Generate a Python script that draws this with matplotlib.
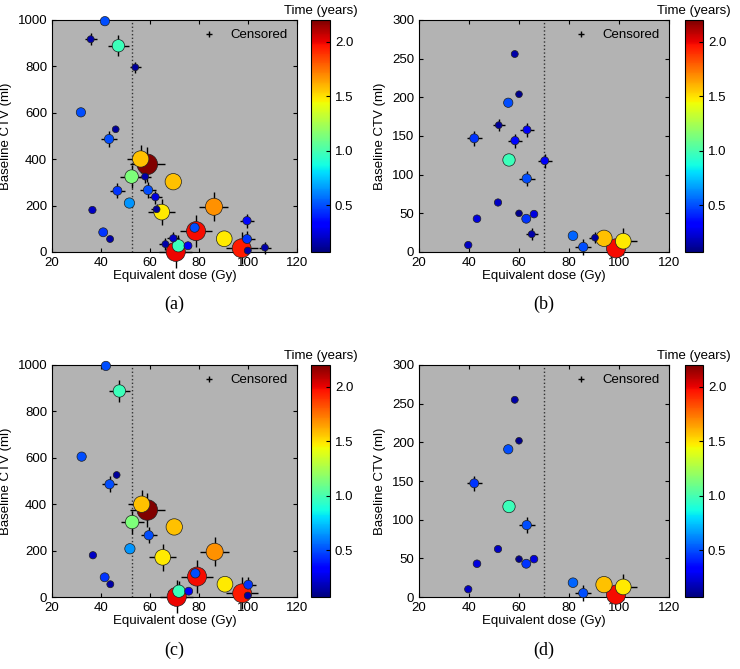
import matplotlib.pyplot as plt
import numpy as np
from matplotlib.lines import Line2D

plt.rcParams['font.family'] = ['Liberation Sans', 'DejaVu Sans']

# panel (a): all patients, dose (Gy), baseline CTV (ml), time (years), censored flag
dose_a = [41.6, 35.8, 47.1, 54.0, 31.8, 46.0, 43.3, 56.2, 58.9, 52.5, 58.0, 69.5,
          46.7, 59.2, 62.2, 51.6, 36.5, 64.8, 62.7, 86.1, 99.6, 40.9, 43.7, 78.8,
          78.2, 90.3, 97.4, 99.6, 99.9, 69.5, 66.3, 71.6, 70.5, 75.5, 106.9]
ctv_a = [995, 917, 889, 796, 602, 529, 487, 401, 378, 325, 325, 303,
         264, 267, 237, 211, 181, 172, 184, 195, 135, 85, 56, 90,
         105, 57, 16, 56, 6, 59, 34, 27, 1, 27, 19]
time_a = [0.5, 0.15, 0.97, 0.12, 0.5, 0.12, 0.5, 1.57, 2.2, 1.14, 0.15, 1.57,
          0.45, 0.5, 0.25, 0.65, 0.2, 1.48, 0.12, 1.68, 0.35, 0.45, 0.15, 1.98,
          0.5, 1.48, 1.95, 0.45, 0.15, 0.2, 0.15, 0.97, 2.0, 0.3, 0.15]
cens_a = [0, 1, 1, 1, 0, 0, 1, 1, 1, 1, 1, 0,
          1, 1, 1, 0, 0, 1, 1, 1, 1, 0, 0, 1,
          0, 0, 1, 1, 0, 1, 1, 1, 1, 0, 1]

# panel (c)
dose_c = [42.0, 47.5, 32.1, 46.4, 43.5, 56.6, 58.9, 52.7, 69.9, 59.5, 51.8, 36.7,
          65.2, 86.4, 41.5, 43.8, 79.2, 78.5, 90.6, 97.6, 100.1, 99.9, 71.8, 70.9, 75.8]
ctv_c = [996, 888, 605, 526, 486, 400, 375, 323, 302, 266, 208, 180,
         171, 195, 85, 55, 88, 102, 55, 16, 53, 6, 25, 1, 25]
time_c = [0.5, 0.97, 0.5, 0.12, 0.5, 1.57, 2.2, 1.14, 1.57, 0.5, 0.65, 0.2,
          1.48, 1.68, 0.45, 0.15, 1.98, 0.5, 1.48, 1.95, 0.45, 0.15, 0.97, 2.0, 0.3]
cens_c = [0, 1, 0, 0, 1, 1, 1, 1, 0, 1, 0, 0,
          1, 1, 0, 0, 1, 0, 0, 1, 1, 0, 1, 1, 0]

# panel (b)
dose_b = [58.3, 60.0, 55.7, 51.9, 42.1, 63.2, 58.4, 56.0, 70.3, 63.1, 51.6, 60.0,
          62.9, 66.0, 43.2, 65.1, 39.7, 81.6, 85.7, 90.4, 94.0, 98.8, 101.7]
ctv_b = [256, 204, 193, 164, 147, 158, 144, 119, 118, 95, 64, 50,
         43, 49, 43, 23, 9, 21, 6.5, 18.5, 17.7, 4.7, 14]
time_b = [0.15, 0.1, 0.5, 0.12, 0.45, 0.3, 0.35, 0.97, 0.3, 0.5, 0.2, 0.1,
          0.45, 0.25, 0.25, 0.15, 0.2, 0.55, 0.5, 0.12, 1.57, 1.98, 1.48]
cens_b = [0, 0, 0, 1, 1, 1, 1, 0, 1, 1, 0, 0,
          0, 0, 0, 1, 0, 0, 1, 1, 0, 0, 1]

# panel (d)
dose_d = [58.3, 60.0, 55.7, 42.1, 56.0, 63.1, 51.6, 60.0, 62.9, 66.0, 43.2, 39.7,
          81.6, 85.7, 94.0, 98.8, 101.7]
ctv_d = [255, 202, 191, 147, 117, 93, 62, 49, 43, 49, 43, 10,
         18.5, 5, 16, 3, 13]
time_d = [0.15, 0.1, 0.5, 0.45, 0.97, 0.5, 0.2, 0.1, 0.45, 0.25, 0.25, 0.2,
          0.55, 0.5, 1.57, 1.98, 1.48]
cens_d = [0, 0, 0, 1, 0, 1, 0, 0, 0, 0, 0, 0,
          0, 1, 0, 0, 1]

tmin, tmax = 0.07, 2.2
bg = '#b3b3b3'

fig = plt.figure(figsize=(7.4, 6.69), dpi=100)


def panel(rect, crect, x, y, t, c, ymax, cut, tag, tagy):
    ax = fig.add_axes(rect)
    ax.set_facecolor(bg)
    x = np.array(x); y = np.array(y); t = np.array(t); c = np.array(c, bool)
    order = np.argsort(-t)  # big (long) ones underneath
    x, y, t, c = x[order], y[order], t[order], c[order]
    r = 3 + 3.3 * t  # radius in px
    ax.axvline(cut, color='#333333', ls=':', lw=1, zorder=1)
    ax.scatter(x[c], y[c], s=(2 * 1.7 * r[c] * 0.72) ** 2, marker='+',
               color='k', lw=1, zorder=2, clip_on=False)
    sc = ax.scatter(x, y, s=(2 * r * 0.72) ** 2, c=t, cmap='jet', vmin=tmin, vmax=tmax,
                    edgecolors='#202020', linewidths=0.5, zorder=3, clip_on=False)
    ax.set_xlim(20, 120)
    ax.set_ylim(0, ymax)
    ax.set_xticks(range(20, 121, 20))
    ax.tick_params(direction='in', top=True, right=True, labelsize=9.5, length=3)
    ax.set_xlabel('Equivalent dose (Gy)', fontsize=9.5, labelpad=1)
    ax.set_ylabel('Baseline CTV (ml)', fontsize=9.5)
    h = Line2D([], [], marker='+', color='k', ls='none', markersize=5)
    ax.legend([h], ['Censored'], loc='upper right', frameon=False, fontsize=9.5,
              handletextpad=0.6, borderaxespad=0.3)
    cax = fig.add_axes(crect)
    cb = fig.colorbar(sc, cax=cax)
    cb.set_ticks([0.5, 1.0, 1.5, 2.0])
    cb.ax.set_yticklabels(['0.5', '1.0', '1.5', '2.0'])
    cb.ax.tick_params(direction='in', labelsize=9.5, length=3)
    cb.outline.set_linewidth(0.8)
    cb.ax.set_title('Time (years)', fontsize=9.5, pad=4)
    fig.text(rect[0] + rect[2] / 2, tagy, tag, ha='center', va='center',
             fontsize=13, family='Liberation Serif')


H = 669
top_y = (669 - 252) / H
bot_y = 72 / H
ah = 232 / H
panel([52 / 740, top_y, 245 / 740, ah], [311 / 740, top_y, 19 / 740, ah],
      dose_a, ctv_a, time_a, cens_a, 1000, 52.5, '(a)', 1 - 304 / H)
panel([419 / 740, top_y, 250 / 740, ah], [685 / 740, top_y, 18 / 740, ah],
      dose_b, ctv_b, time_b, cens_b, 300, 70, '(b)', 1 - 304 / H)
panel([52 / 740, bot_y, 245 / 740, ah], [311 / 740, bot_y, 19 / 740, ah],
      dose_c, ctv_c, time_c, cens_c, 1000, 52.5, '(c)', 1 - 650 / H)
panel([419 / 740, bot_y, 250 / 740, ah], [685 / 740, bot_y, 18 / 740, ah],
      dose_d, ctv_d, time_d, cens_d, 300, 70, '(d)', 1 - 650 / H)

plt.savefig('out.png', dpi=100)
